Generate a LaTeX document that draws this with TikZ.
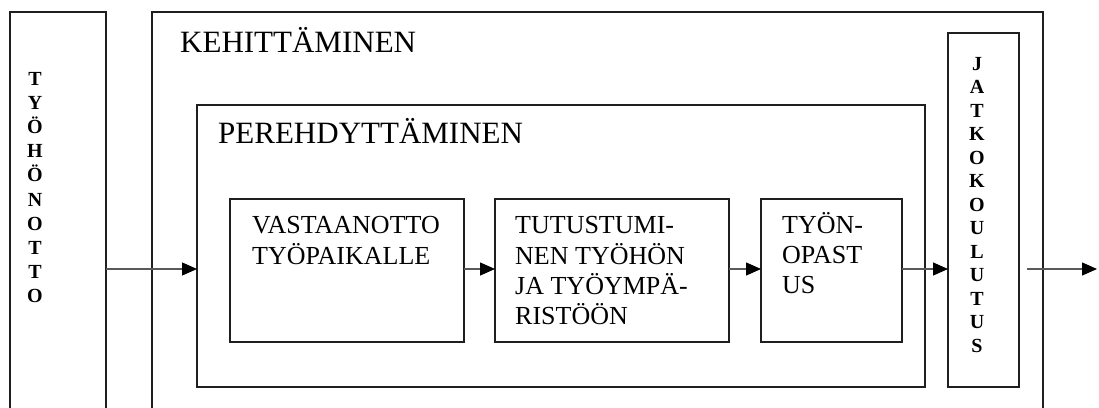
\documentclass[tikz,border=0pt]{standalone}
\usepackage{fontspec}
\setmainfont{Liberation Serif}
\usetikzlibrary{arrows.meta,calc}

\begin{document}
\begin{tikzpicture}[x=1pt,y=-1pt,
  box/.style={draw=black!88, line width=1.2pt, rectangle, inner sep=0pt, outer sep=0pt, anchor=north west},
  title/.style={anchor=base west, inner sep=0pt, font=\fontsize{31}{36}\selectfont},
  stagetext/.style={anchor=north west, inner sep=0pt, align=left, font=\fontsize{26}{30}\selectfont},
  spine/.style={anchor=north, inner sep=0pt, align=center},
  flowarrow/.style={draw=black!65, line width=1.2pt, -{Triangle[length=15pt,width=13pt,black]}}
]
\clip (0,0) rectangle (1099,407);
\fill[white] (0,0) rectangle (1099,407);

% frame boxes
\node[box, minimum width=96, minimum height=430] (hire) at (10,12) {};
\node[box, minimum width=891, minimum height=430] (kehit) at (152,12) {};
\node[box, minimum width=728, minimum height=282] (pereh) at (197,105) {};
\node[box, minimum width=71, minimum height=354] (jatko) at (948,33) {};

% stage boxes
\node[box, minimum width=234, minimum height=143] (vast) at (230,199) {};
\node[box, minimum width=234, minimum height=143] (tutu) at (495,199) {};
\node[box, minimum width=141, minimum height=143] (tyon) at (761,199) {};

% titles
\node[title] (kehitlabel) at ($(kehit.north west)+(28,40)$) {KEHITTÄMINEN};
\node[title] (perehlabel) at ($(pereh.north west)+(21,38)$) {PEREHDYTTÄMINEN};

% stage texts
\node[stagetext] (vasttext) at ($(vast.north west)+(22,13)$) {\strut VASTAANOTTO\\TYÖPAIKALLE};
\node[stagetext] (tututext) at ($(tutu.north west)+(20,13)$) {\strut TUTUSTUMI-\\NEN TYÖHÖN\\JA TYÖYMPÄ-\\RISTÖÖN};
\node[stagetext] (tyontext) at ($(tyon.north west)+(21,13)$) {\strut TYÖN-\\OPAST\\US};

% vertical texts
\node[spine, font=\fontsize{20}{24.2}\selectfont\bfseries] (hiretext) at (35,68)
  {\strut T\\Y\\Ö\\H\\Ö\\N\\O\\T\\T\\O};
\node[spine, font=\fontsize{20}{23.5}\selectfont\bfseries] (jatkotext) at (977,53.5)
  {\strut J\\A\\T\\K\\O\\K\\O\\U\\L\\U\\T\\U\\S};

% flow
\coordinate (flow) at (0,269);
\coordinate (out) at (1097,269);
\draw[flowarrow] (hire.east |- flow) -- (pereh.west |- flow);
\draw[flowarrow] (vast.east |- flow) -- (tutu.west |- flow);
\draw[flowarrow] (tutu.east |- flow) -- (tyon.west |- flow);
\draw[flowarrow] (tyon.east |- flow) -- (jatko.west |- flow);
\draw[flowarrow] ($(jatko.east |- flow)+(8,0)$) -- (out);
\end{tikzpicture}
\end{document}
